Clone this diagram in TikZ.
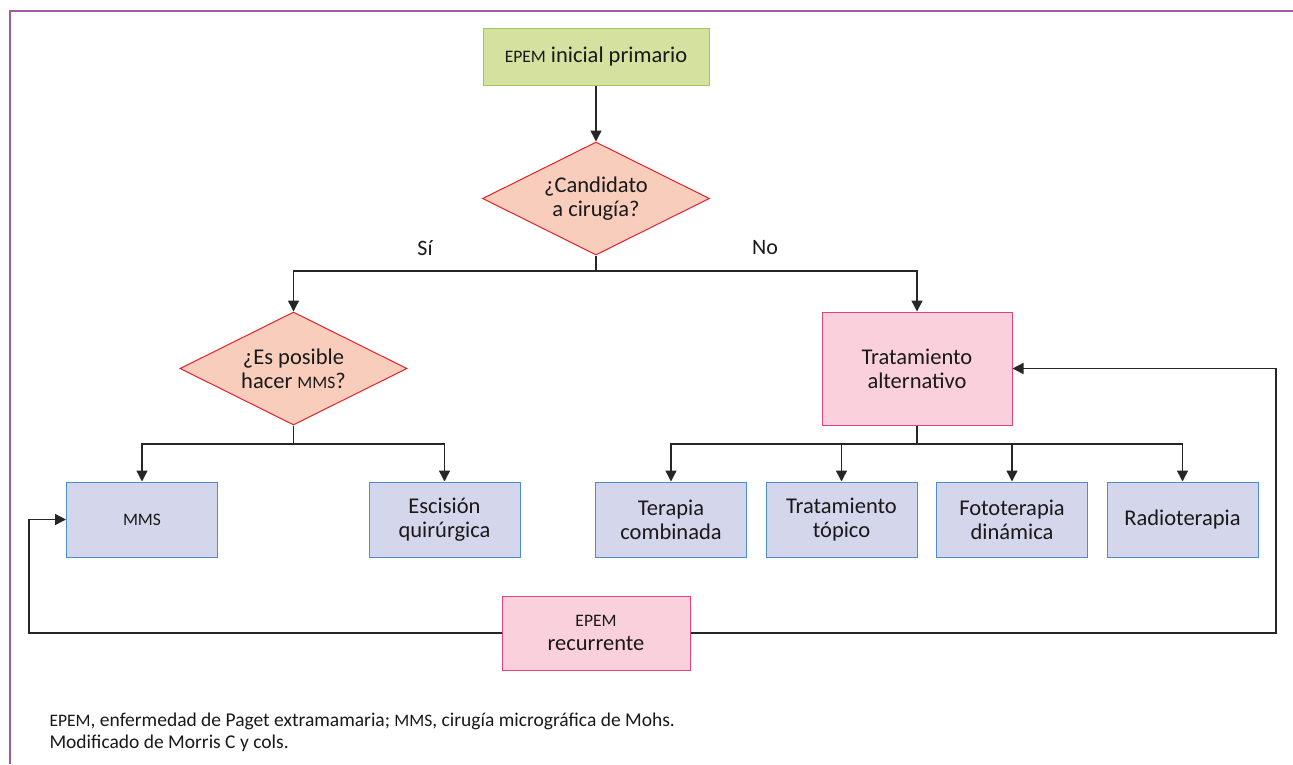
\documentclass[tikz,border=0pt]{standalone}
\usepackage{fontspec}
\setmainfont{Carlito}
\usetikzlibrary{shapes.geometric,arrows.meta}
\definecolor{frameC}{HTML}{9E5BA2}
\definecolor{greenF}{HTML}{D5E19E}
\definecolor{greenD}{HTML}{A2C65A}
\definecolor{diaF}{HTML}{F8CDBB}
\definecolor{diaD}{HTML}{E3202C}
\definecolor{blueF}{HTML}{D4D6EC}
\definecolor{blueD}{HTML}{4A8FD0}
\definecolor{pinkF}{HTML}{F9D0DC}
\definecolor{pinkD}{HTML}{E8407A}
\newcommand{\smc}[1]{{\fontsize{17.5}{20}\selectfont #1}}
\newcommand{\smcf}[1]{{\fontsize{17.5}{20}\selectfont #1}}
\tikzset{
  txt/.style={font=\fontsize{22.5}{24}\selectfont, align=center, text=black!90},
  startbox/.style={txt, rectangle, draw=greenD, fill=greenF, line width=1pt, minimum width=226pt, minimum height=57pt, inner sep=0pt},
  decision/.style={txt, diamond, draw=diaD, fill=diaF, line width=1pt, minimum width=227pt, minimum height=113pt, inner sep=0pt, aspect=2},
  actbox/.style={txt, rectangle, draw=blueD, fill=blueF, line width=1pt, minimum width=151pt, minimum height=75pt, inner sep=0pt},
  pinkbox/.style={txt, rectangle, draw=pinkD, fill=pinkF, line width=1pt, inner sep=0pt},
  conn/.style={draw=black!85, line width=1.4pt},
  arr/.style={conn, -{Triangle[length=11pt,width=11pt]}},
  lbl/.style={font=\fontsize{22}{24}\selectfont, text=black!90},
}
\begin{document}
\begin{tikzpicture}[x=1pt,y=-1pt]
\useasboundingbox (0,0) rectangle (1293,764);
\fill[white] (0,0) rectangle (1293,764);
\draw[frameC, line width=2pt] (9.5,764) -- (9.5,10.5) -- (1293,10.5);

\node[startbox] (start) at (596,56.5) {\smc{EPEM} inicial primario};
\node[decision] (d1) at (596,198.5) {¿Candidato\\a cirugía?};
\node[decision] (d2) at (293.5,368.5) {¿Es posible\\hacer \smc{MMS}?};
\node[pinkbox, minimum width=190pt, minimum height=113pt] (alt) at (917,368.5) {Tratamiento\\alternativo};

\node[actbox] (mms) at (142,519.5) {\smc{MMS}};
\node[actbox] (esc) at (444.5,519.5) {Escisión\\quirúrgica};
\node[actbox] (ter) at (671,519.5) {Terapia\\combinada};
\node[actbox] (top) at (841.5,519.5) {Tratamiento\\tópico};
\node[actbox] (foto) at (1012,519.5) {Fototerapia\\dinámica};
\node[actbox] (radio) at (1182.5,519.5) {Radioterapia};

\node[pinkbox, minimum width=188pt, minimum height=74pt] (rec) at (596,633) {\smc{EPEM}\\recurrente};

\node[lbl] (si) at (425,248) {Sí};
\node[lbl] (no) at (765,248) {No};

% connectors
\draw[arr] (start.south) -- (d1.north);
\coordinate (j1) at (596,271);
\draw[conn] (d1.south) -- (j1);
\draw[arr] (j1) -| (d2.north);
\draw[arr] (j1) -| (alt.north);

\coordinate (j2) at (293.5,444);
\draw[conn] (d2.south) -- (j2);
\draw[arr] (j2) -| (mms.north);
\draw[arr] (j2) -| (esc.north);

\coordinate (j3) at (917,444);
\draw[conn] (alt.south) -- (j3);
\draw[arr] (j3) -| (ter.north);
\draw[arr] (j3) -| (top.north);
\draw[arr] (j3) -| (foto.north);
\draw[arr] (j3) -| (radio.north);

\coordinate (lc) at (29,633);
\coordinate (rc) at (1276,633);
\draw[arr] (rec.west) -- (lc) |- (mms.west);
\draw[arr] (rec.east) -- (rc) |- (alt.east);

\node[anchor=west, font=\fontsize{19.5}{22}\selectfont, align=left, text=black!90] (foot) at (46,732) {\smcf{EPEM}, enfermedad de Paget extramamaria; \smcf{MMS}, cirugía micrográfica de Mohs.\\Modificado de Morris C y cols.};
\end{tikzpicture}
\end{document}
